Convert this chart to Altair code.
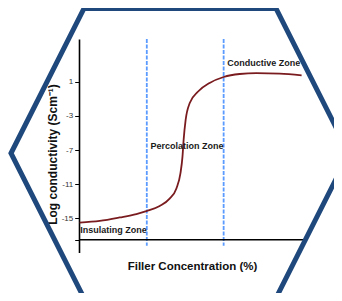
import altair as alt
import pandas as pd

# Curve (filler %, log conductivity)
conc = [0.3, 9.2, 18, 25.4, 29.8, 35.7, 40.1, 43.1, 44.9, 45.8, 46.3, 47.2,
        49, 52.7, 57.8, 64, 71.1, 78.5, 88.8, 98.5]
logc = [-15.5, -15.3, -14.9, -14.5, -14.15, -13.55, -12.7, -11.5, -9.7, -7.75,
        -5.8, -3.45, -1.5, -0.15, 0.85, 1.55, 1.9, 2.0, 1.95, 1.75]

boundaries = [30, 64]
zone_names = ["Insulating Zone", "Percolation Zone", "Conductive Zone"]
zone_x = [0.6, 31.6, 65.6]
zone_y = [-16.4, -6.5, 3.2]
y_ticks = [1, -3, -7, -11, -15, -17.5]
x_axis_level = [-17.5]

FONT = "Liberation Sans"
X = alt.Scale(domain=[0, 100], nice=False, zero=False)
Y = alt.Scale(domain=[-19, 6], nice=False, zero=False)

curve_df = pd.DataFrame({"conc": conc, "logc": logc})
zones_df = pd.DataFrame({"name": zone_names, "zx": zone_x, "zy": zone_y})
bound_df = pd.DataFrame({"b": boundaries, "top": [6] * 2, "bot": [-18.2] * 2})
xaxis_df = pd.DataFrame({"lvl": x_axis_level, "x0": [0], "x1": [100]})

curve = alt.Chart(curve_df).mark_line(
    color="#7a1c1f", strokeWidth=1.8, interpolate="monotone"
).encode(
    x=alt.X("conc:Q", scale=X, axis=alt.Axis(
        title="Filler Concentration (%)", labels=False, ticks=False,
        domain=False, grid=False, titleFont=FONT, titleFontSize=11.5,
        titleFontWeight="bold", titleColor="#111", titleBaseline="middle",
        titleAlign="center", titleX=113, titleY=14.3)),
    y=alt.Y("logc:Q", scale=Y, axis=alt.Axis(
        values=y_ticks, grid=False,
        labelExpr="datum.value == -17.5 ? '' : '' + datum.value",
        labelFont=FONT, labelFontSize=8, labelColor="#333", labelPadding=2,
        tickColor="#000", tickSize=4.3, tickWidth=1,
        domainColor="#000", domainWidth=1.6,
        title="Log conductivity (Scm\u207b\u00b9)", titleFont=FONT,
        titleFontSize=12, titleFontWeight="bold", titleColor="#111",
        titleAngle=270, titleAlign="center", titleBaseline="middle",
        titleX=-27, titleY=115)),
)

xline = alt.Chart(xaxis_df).mark_rule(color="#000", strokeWidth=1.5).encode(
    y=alt.Y("lvl:Q", scale=Y), x=alt.X("x0:Q", scale=X), x2="x1:Q"
)

bounds = alt.Chart(bound_df).mark_rule(
    color="#5b9bff", strokeWidth=1.8, strokeDash=[4, 1.5]
).encode(
    x=alt.X("b:Q", scale=X), y=alt.Y("top:Q", scale=Y), y2="bot:Q"
)

labels = alt.Chart(zones_df).mark_text(
    align="left", baseline="middle", font=FONT, fontSize=9,
    fontWeight="bold", color="#1a1a1a"
).encode(
    x=alt.X("zx:Q", scale=X), y=alt.Y("zy:Q", scale=Y), text="name:N"
)

hex_path = "M-1,0 L-0.568,-0.857 L0.568,-0.857 L1,0 L0.568,0.857 L-0.568,0.857 Z"
frame = alt.Chart(pd.DataFrame({"k": [0]})).mark_point(
    shape=hex_path, filled=False, stroke="#1f497d", strokeWidth=5,
    strokeJoin="miter", size=338 * 338, opacity=1
).encode(x=alt.value(101), y=alt.value(114.25))

chart = alt.layer(bounds, xline, curve, labels, frame).properties(
    width=226, height=213.5,
    padding={"left": 71, "top": 31, "right": 29, "bottom": 40.5},
    autosize="none",
).configure_view(stroke=None)

chart.save("out.html", embed_options={"renderer": "svg", "actions": False})
